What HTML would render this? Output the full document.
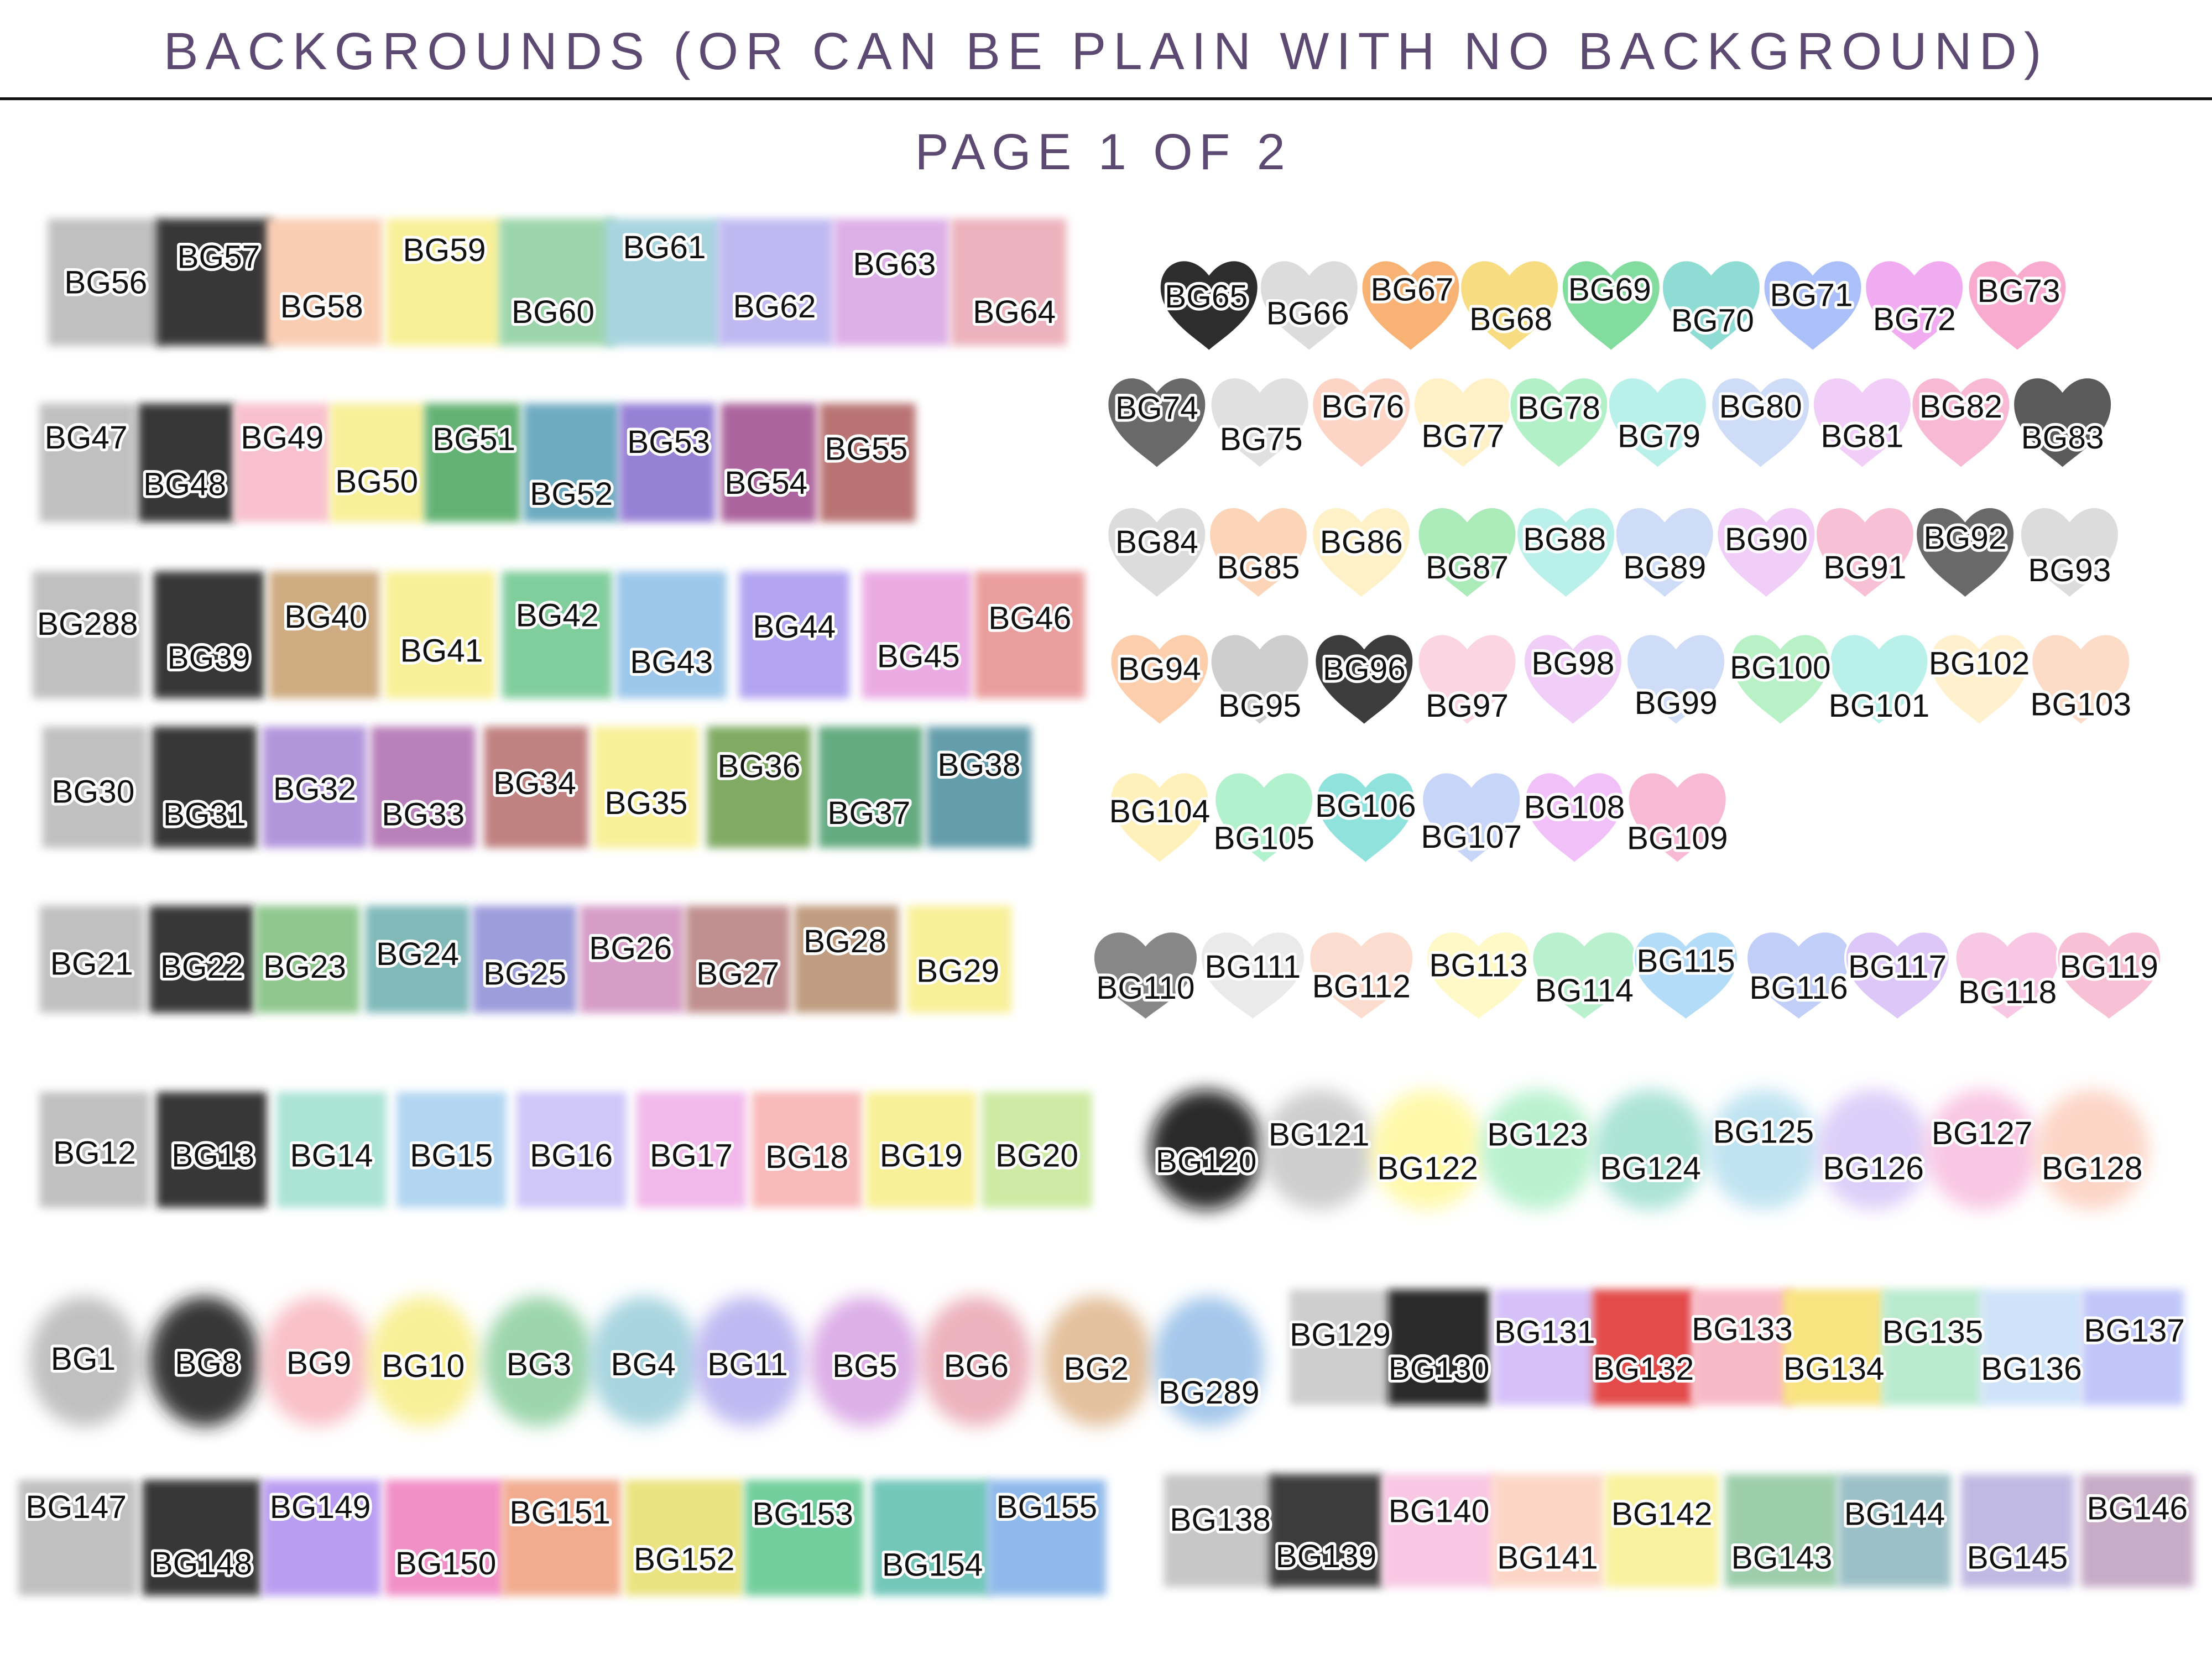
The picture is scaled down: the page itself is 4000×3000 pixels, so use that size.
<!DOCTYPE html>
<html><head><meta charset="utf-8"><style>
html,body{margin:0;padding:0;background:#fff;width:4000px;height:3000px;overflow:hidden}
svg{display:block}
</style></head><body>
<svg id="s" width="4000" height="3000" viewBox="0 0 1568 1176" xmlns="http://www.w3.org/2000/svg">
<defs>
<filter id="soft" x="-30%" y="-30%" width="160%" height="160%"><feGaussianBlur stdDeviation="3"/></filter>
<filter id="softer" x="-40%" y="-40%" width="180%" height="180%"><feGaussianBlur stdDeviation="6"/></filter>
</defs>
<text x="784" y="49" text-anchor="middle" font-family="Liberation Sans, sans-serif" font-size="37" letter-spacing="5.1" fill="#5d4a72">BACKGROUNDS (OR CAN BE PLAIN WITH NO BACKGROUND)</text>
<rect x="0" y="69" width="1568" height="2" fill="#111"/>
<text x="782" y="120" text-anchor="middle" font-family="Liberation Sans, sans-serif" font-size="36" letter-spacing="4.5" fill="#5d4a72">PAGE 1 OF 2</text>
<g id="marks" opacity="0.88"></g><g id="labels"></g>
</svg>
<script>
const G='#b8b8b8',K='#1e1e1e',PE='#f9c6a8',Y='#f8ee8a',GR='#8fd0a0',BL='#9ccfdc',LV='#b8b0f0',PU='#d8a4e4',PK='#eaa8b4';
// [label, color, cx, cy, lx, ly]
const rows=[
 {shape:'sq',w:82,h:90,items:[['BG56',G,75,200,75,200],['BG57',K,152,200,155,182],['BG58',PE,230,200,228,217],['BG59',Y,315,200,315,177],['BG60',GR,395,200,392,221],['BG61',BL,470,200,471,175],['BG62',LV,550,200,549,217],['BG63',PU,632,200,634,187],['BG64',PK,715,200,719,221]]},
 {shape:'sq',w:68,h:84,items:[['BG47',G,62,328,61,310],['BG48',K,132,328,131,343],['BG49','#f8b8c8',200,328,200,310],['BG50',Y,268,328,267,341],['BG51','#50a860',335,328,336,311],['BG52','#5aa0b8',405,328,405,350],['BG53','#8870d0',473,328,474,313],['BG54','#a05090',545,328,543,342],['BG55','#b06060',615,328,614,318]]},
 {shape:'sq',w:78,h:90,items:[['BG288',G,62,450,62,442],['BG39',K,148,450,148,466],['BG40','#c8a070',230,450,231,437],['BG41',Y,312,450,313,461],['BG42','#70c890',395,450,395,436],['BG43','#90c0e8',476,450,476,469],['BG44','#a898f0',563,450,563,444],['BG45','#e8a0e0',650,450,651,465],['BG46','#e89090',730,450,730,438]]},
 {shape:'sq',w:74,h:86,items:[['BG30',G,67,558,66,561],['BG31',K,145,558,145,577],['BG32','#a888d8',223,558,223,559],['BG33','#b070b0',300,558,300,577],['BG34','#b87070',380,558,379,555],['BG35',Y,458,558,458,569],['BG36','#70a050',538,558,538,543],['BG37','#50a070',617,558,616,576],['BG38','#5090a0',694,558,694,542]]},
 {shape:'sq',w:74,h:76,items:[['BG21',G,65,680,65,683],['BG22',K,143,680,143,685],['BG23','#80c080',218,680,216,685],['BG24','#70b0b0',296,680,296,676],['BG25','#9090d8',372,680,372,690],['BG26','#d090c0',448,680,447,672],['BG27','#b88080',523,680,523,690],['BG28','#b89070',600,680,599,667],['BG29',Y,680,680,679,688]]},
 {shape:'sq',w:78,h:82,items:[['BG12',G,67,815,67,817],['BG13',K,150,815,151,819],['BG14','#a0e0d0',235,815,235,819],['BG15','#a8d0f0',320,815,320,819],['BG16','#c8c0f8',405,815,405,819],['BG17','#f0b0e8',490,815,490,819],['BG18','#f8b0b0',572,815,572,820],['BG19',Y,653,815,653,819],['BG20','#c8e898',735,815,735,819]]},
 {shape:'spl',w:78,h:92,items:[['BG1',G,60,965,59,963],['BG8',K,145,965,147,966],['BG9','#f8b8c0',225,965,226,966],['BG10',Y,300,965,300,968],['BG3',GR,382,965,382,967],['BG4',BL,457,965,456,967],['BG11',LV,530,965,530,967],['BG5',PU,613,965,613,968],['BG6',PK,692,965,692,968],['BG2','#e0b890',778,965,777,970],['BG289','#98c0e8',857,965,857,987]]},
 {shape:'sq',w:84,h:82,items:[['BG147',G,55,1090,54,1068],['BG148',K,143,1090,143,1108],['BG149','#b090f0',228,1090,227,1068],['BG150','#f080c0',315,1090,316,1108],['BG151','#f0a080',398,1090,397,1072],['BG152','#e8e070',485,1090,485,1105],['BG153','#60c890',570,1090,569,1073],['BG154','#60c0b0',660,1090,661,1109],['BG155','#80b0e8',742,1090,742,1068]]},
 {shape:'heart',w:70,h:68,items:[['BG65','#111',857,215,855,210],['BG66','#d8d8d8',928,215,927,222],['BG67','#f8a860',1000,215,1001,205],['BG68','#f8d870',1070,215,1071,226],['BG69','#70d890',1142,215,1141,205],['BG70','#80d8d0',1213,215,1214,227],['BG71','#a0b8f8',1285,215,1284,209],['BG72','#f0a0f0',1357,215,1357,226],['BG73','#f8a0c8',1430,215,1431,206]]},
 {shape:'heart',w:70,h:68,items:[['BG74','#555',820,298,820,289],['BG75','#dcdcdc',893,298,894,311],['BG76','#fcd0c0',965,298,966,288],['BG77','#fff0c0',1037,298,1037,309],['BG78','#a8f0c0',1105,298,1105,289],['BG79','#b0f0e8',1175,298,1176,309],['BG80','#c8d8f8',1248,298,1248,288],['BG81','#f0c8f8',1320,298,1320,309],['BG82','#f8b0d0',1390,298,1390,288],['BG83','#444',1462,298,1462,310]]},
 {shape:'heart',w:70,h:68,items:[['BG84','#d8d8d8',820,390,820,384],['BG85','#fcd0b0',892,390,892,402],['BG86','#fff0c0',965,390,965,384],['BG87','#a0e8b0',1040,390,1040,402],['BG88','#b0f0e8',1110,390,1109,382],['BG89','#c8d8f8',1180,390,1180,402],['BG90','#f0c8f8',1252,390,1252,382],['BG91','#f8b8d0',1322,390,1322,402],['BG92','#555',1393,390,1393,381],['BG93','#d8d8d8',1467,390,1467,404]]},
 {shape:'heart',w:70,h:68,items:[['BG94','#fcc8a0',822,480,822,474],['BG95','#c8c8c8',893,480,893,500],['BG96','#222',967,480,967,474],['BG97','#fcd0e0',1040,480,1040,500],['BG98','#f0c8f8',1115,480,1115,470],['BG99','#c8d8f8',1188,480,1188,498],['BG100','#b0f0c0',1262,480,1262,473],['BG101','#b0f0e8',1332,480,1332,500],['BG102','#fff0c8',1403,480,1403,470],['BG103','#fcd8c0',1475,480,1475,499]]},
 {shape:'heart',w:70,h:68,items:[['BG104','#fff0b0',822,578,822,575],['BG105','#a8f0c8',896,578,896,594],['BG106','#80e0d8',968,578,968,571],['BG107','#c0d0f8',1043,578,1043,593],['BG108','#f0b8f8',1116,578,1116,572],['BG109','#f8b0d0',1189,578,1189,594]]},
 {shape:'heart',w:74,h:66,items:[['BG110','#777',812,690,812,700],['BG111','#e8e8e8',888,690,888,685],['BG112','#fcd8c8',965,690,965,699],['BG113','#fff8c0',1048,690,1048,684],['BG114','#b0f0c8',1123,690,1123,702],['BG115','#a8d8f8',1195,690,1195,681],['BG116','#b8c8f8',1275,690,1275,700],['BG117','#d8c0f8',1345,690,1345,685],['BG118','#f8c0e0',1423,690,1423,703],['BG119','#f8b8d0',1495,690,1495,685]]},
 {shape:'spl',w:80,h:85,items:[['BG120','#111',855,815,855,823],['BG121','#c8c8c8',935,815,935,804],['BG122','#fff8a0',1012,815,1012,828],['BG123','#b0f0c8',1090,815,1090,804],['BG124','#a0e0d0',1170,815,1170,828],['BG125','#b8e0f0',1250,815,1250,802],['BG126','#d8c8f8',1328,815,1328,828],['BG127','#f8c0e0',1405,815,1405,803],['BG128','#fcd0c0',1483,815,1483,828]]},
 {shape:'sq',w:72,h:82,items:[['BG129','#c8c8c8',950,955,950,946],['BG130','#111',1020,955,1020,970],['BG131','#d0b8f8',1095,955,1095,944],['BG132','#e03030',1165,955,1165,970],['BG133','#f8b0c0',1235,955,1235,942],['BG134','#f8e070',1300,955,1300,970],['BG135','#b0e8c8',1370,955,1370,944],['BG136','#c8e0f8',1440,955,1440,970],['BG137','#b8c0f8',1512,955,1513,943]]},
 {shape:'sq',w:80,h:80,items:[['BG138','#c0c0c0',865,1085,865,1077],['BG139','#222',940,1085,940,1103],['BG140','#f8c0e0',1020,1085,1020,1071],['BG141','#fcd0c0',1097,1085,1097,1104],['BG142','#f8f090',1178,1085,1178,1073],['BG143','#90c8a0',1263,1085,1263,1104],['BG144','#8fb8c0',1343,1085,1343,1073],['BG145','#b8b0e0',1430,1085,1430,1104],['BG146','#c0a0c0',1515,1085,1515,1069]]}
];
const NS='http://www.w3.org/2000/svg';
const marks=document.getElementById('marks'),labels=document.getElementById('labels');
const heart='M0,0.9 C-0.25,0.68 -1,0.3 -1,-0.3 C-1,-0.8 -0.4,-1.02 0,-0.55 C0.4,-1.02 1,-0.8 1,-0.3 C1,0.3 0.25,0.68 0,0.9Z';
rows.forEach(r=>{r.items.forEach(it=>{
  const [lab,col,cx,cy,lx,ly]=it;let el;
  if(r.shape==='heart'){
    el=document.createElementNS(NS,'path');
    el.setAttribute('d',heart);
    el.setAttribute('transform',`translate(${cx},${cy}) scale(${r.w/2},${r.h/1.8})`);
    el.setAttribute('stroke','#fff');el.setAttribute('stroke-width','0.04');
  }else if(r.shape==='spl'){
    el=document.createElementNS(NS,'ellipse');
    el.setAttribute('cx',cx);el.setAttribute('cy',cy);el.setAttribute('rx',r.w/2);el.setAttribute('ry',r.h/2);
    el.setAttribute('filter','url(#softer)');
  }else{
    el=document.createElementNS(NS,'rect');
    el.setAttribute('x',cx-r.w/2);el.setAttribute('y',cy-r.h/2);el.setAttribute('width',r.w);el.setAttribute('height',r.h);
    el.setAttribute('filter','url(#soft)');
  }
  el.setAttribute('fill',col);
  
  
  marks.appendChild(el);
  const t=document.createElementNS(NS,'text');
  t.setAttribute('x',lx);t.setAttribute('y',ly+8);t.setAttribute('text-anchor','middle');
  t.setAttribute('font-family','Liberation Sans, sans-serif');t.setAttribute('font-size','23');
  t.setAttribute('fill','#111');t.setAttribute('stroke','#fff');t.setAttribute('stroke-width','4');
  t.setAttribute('paint-order','stroke');t.setAttribute('stroke-linejoin','round');
  t.textContent=lab;
  
  
  labels.appendChild(t);
});});
</script>
</body></html>
